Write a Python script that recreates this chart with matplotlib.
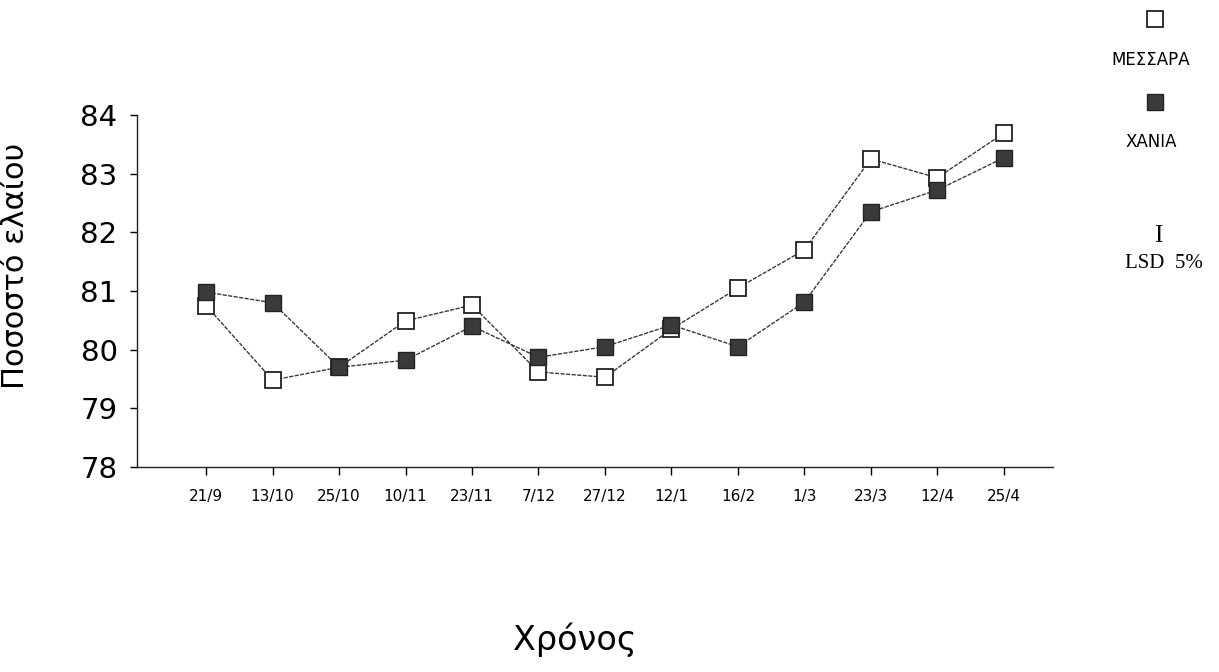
import matplotlib
matplotlib.use("Agg")
import matplotlib.pyplot as plt

# === Data ===
dates = ["21/9", "13/10", "25/10", "10/11", "23/11", "7/12", "27/12",
         "12/1", "16/2", "1/3", "23/3", "12/4", "25/4"]
messara = [80.75, 79.48, 79.70, 80.49, 80.76, 79.62, 79.53,
           80.35, 81.05, 81.70, 83.25, 82.93, 83.69]
chania = [80.98, 80.80, 79.70, 79.82, 80.40, 79.87, 80.05,
          80.42, 80.05, 80.81, 82.35, 82.72, 83.27]
yticks = [78, 79, 80, 81, 82, 83, 84]

font = "DejaVu Sans"

# === Plot ===
fig = plt.figure(figsize=(12.19, 6.72), dpi=100)
ax = fig.add_axes([0.1124, 0.3051, 0.7514, 0.5238])

x = list(range(len(dates)))
ax.plot(x, messara, color="#3a3a3a", lw=1.0, ls=(0, (3, 1)), marker="s",
        markersize=11.5, markerfacecolor="white", markeredgecolor="#222222",
        markeredgewidth=1.3, zorder=3)
ax.plot(x, chania, color="#3a3a3a", lw=1.0, ls=(0, (3, 1)), marker="s",
        markersize=11.5, markerfacecolor="#3a3a3a", markeredgecolor="#222222",
        markeredgewidth=1.0, zorder=4)

ax.set_xlim(-1.04, 12.74)
ax.set_ylim(78, 84)
ax.set_yticks(yticks)
ax.set_yticklabels([str(v) for v in yticks], family=font, fontsize=21)
ax.set_xticks(x)
ax.set_xticklabels(dates, family=font, fontsize=11)

for s in ["top", "right"]:
    ax.spines[s].set_visible(False)
for s in ["left", "bottom"]:
    ax.spines[s].set_linewidth(1.0)
    ax.spines[s].set_color("#222222")
ax.tick_params(axis="y", direction="out", length=5, width=1, pad=9)
ax.tick_params(axis="x", direction="out", length=6, width=1, pad=10)

# axis titles
fig.text(575 / 1219, 1 - 640 / 672, "Χρόνος", family=font, fontsize=24,
         ha="center", va="center")
fig.text(16 / 1219, 1 - 266 / 672, "Ποσοστό ελαίου", family=font, fontsize=22,
         rotation=90, ha="center", va="center")

# legend on the right
fig.lines.append(plt.Line2D([1155 / 1219], [1 - 19 / 672], transform=fig.transFigure,
                            marker="s", markersize=11, markerfacecolor="white",
                            markeredgecolor="#222222", markeredgewidth=1.3))
fig.text(1151 / 1219, 1 - 60 / 672, "ΜΕΣΣΑΡΑ", family=font, fontsize=12,
         ha="center", va="center")
fig.lines.append(plt.Line2D([1155 / 1219], [1 - 102 / 672], transform=fig.transFigure,
                            marker="s", markersize=11, markerfacecolor="#3a3a3a",
                            markeredgecolor="#222222", markeredgewidth=1.0))
fig.text(1151 / 1219, 1 - 142 / 672, "ΧΑΝΙΑ", family=font, fontsize=12,
         ha="center", va="center")
fig.text(1158 / 1219, 1 - 236 / 672, "I", family="Liberation Serif", fontsize=18,
         ha="center", va="center")
fig.text(1164 / 1219, 1 - 263 / 672, "LSD  5%", family="Liberation Serif",
         fontsize=15, ha="center", va="center")

fig.savefig("out.png", dpi=100, facecolor="white")
